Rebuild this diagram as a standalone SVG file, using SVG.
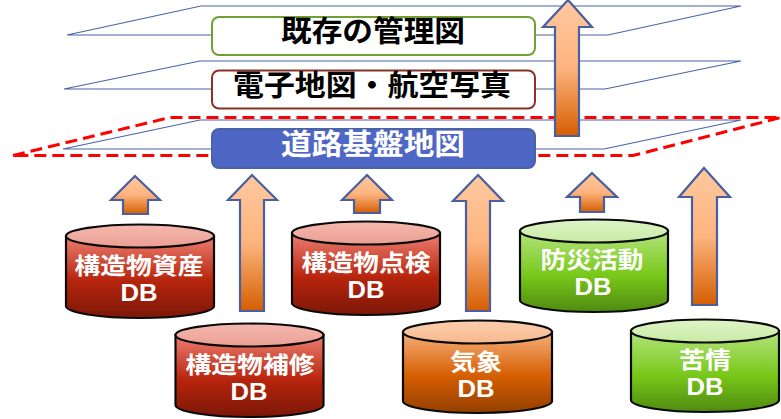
<svg xmlns="http://www.w3.org/2000/svg" width="781" height="419" viewBox="0 0 781 419">
<style>
.plane{fill:none;stroke:#4a62a8;stroke-width:1.1}
.box{stroke-width:2}
.hd{font-family:"Liberation Sans","Noto Sans CJK JP",sans-serif;font-size:29px;font-weight:700;text-anchor:middle}
.lb{font-family:"Liberation Sans","Noto Sans CJK JP",sans-serif;font-size:23px;font-weight:700;fill:#fff;text-anchor:middle}
.db{font-family:"Liberation Sans","Noto Sans CJK JP",sans-serif;font-size:24px;font-weight:700;fill:#fff;text-anchor:middle}
.arr{fill:url(#ga);stroke:#4a5f9f;stroke-width:2.2;stroke-linejoin:miter}
.cyl{stroke:#0a0a0a;stroke-width:2.2}
.red{fill:url(#gr)}.org{fill:url(#go)}.grn{fill:url(#gg)}
.redt{fill:url(#grt)}.orgt{fill:url(#got)}.grnt{fill:url(#ggt)}
</style>
<defs>
<linearGradient id="ga" x1="0" y1="0" x2="0" y2="1"><stop offset="0" stop-color="#ffc99f"/><stop offset=".5" stop-color="#fdb47f"/><stop offset="1" stop-color="#d55e00"/></linearGradient>
<linearGradient id="gr" x1="0" y1="0" x2="0" y2="1"><stop offset="0" stop-color="#ee7f72"/><stop offset=".55" stop-color="#b6240c"/><stop offset="1" stop-color="#7c1808"/></linearGradient>
<linearGradient id="go" x1="0" y1="0" x2="0" y2="1"><stop offset="0" stop-color="#f7b07c"/><stop offset=".55" stop-color="#d55e00"/><stop offset="1" stop-color="#933f00"/></linearGradient>
<linearGradient id="gg" x1="0" y1="0" x2="0" y2="1"><stop offset="0" stop-color="#b4e47c"/><stop offset=".55" stop-color="#78c81a"/><stop offset="1" stop-color="#4f8a10"/></linearGradient>
<linearGradient id="grt" x1="0" y1="0" x2="0" y2="1"><stop offset="0" stop-color="#f5b8ae"/><stop offset="1" stop-color="#eb9f94"/></linearGradient>
<linearGradient id="got" x1="0" y1="0" x2="0" y2="1"><stop offset="0" stop-color="#fbcfb0"/><stop offset="1" stop-color="#f7b88c"/></linearGradient>
<linearGradient id="ggt" x1="0" y1="0" x2="0" y2="1"><stop offset="0" stop-color="#dff4c8"/><stop offset="1" stop-color="#c8eba4"/></linearGradient>
</defs>
<g id="planes">
<path class="plane" d="M67 35L201 6H741L608 35Z"/>
<path class="plane" d="M64 89L200 61H741L605 89Z"/>
<path class="plane" d="M63 149L200 120H741L604 149Z"/>
</g>
<path id="red-outline" d="M13 155.500L170 117.500H781L633 155.500Z" fill="none" stroke="#ff0000" stroke-width="3" stroke-dasharray="12 6"/>
<g id="layer-existing"><rect class="box" x="212" y="17" width="323" height="38" rx="7" fill="#fff" stroke="#70a030"/><text class="hd" x="373" y="42" fill="#000" textLength="184" lengthAdjust="spacingAndGlyphs">既存の管理図</text></g>
<g id="layer-map"><rect class="box" x="212" y="70.500" width="323" height="38" rx="7" fill="#fff" stroke="#8a3226"/><text class="hd" x="372" y="95.500" fill="#000" textLength="278" lengthAdjust="spacingAndGlyphs">電子地図・航空写真</text></g>
<g id="layer-road"><rect class="box" x="212" y="129" width="323" height="39" rx="7" fill="#4f67c4" stroke="#4a62a8"/><text class="hd" x="373" y="155" fill="#fff" textLength="184" lengthAdjust="spacingAndGlyphs">道路基盤地図</text></g>
<g id="connectors">
<path class="arr" d="M135 176L160 200H148V214H123V200H111Z"/>
<path class="arr" d="M252 175L277 200H264V311H240V200H228Z"/>
<path class="arr" d="M367 175L392 200H380V213H354V200H342Z"/>
<path class="arr" d="M478 175L503 201H490V311H466V201H453Z"/>
<path class="arr" d="M592 173L617 197H604V212H580V197H567Z"/>
<path class="arr" d="M704 168L730 197H717V305H692V197H679Z"/>
<path class="arr" d="M568 0L592 27H579V136H555V27H543Z"/>
</g>
<g id="db-assets"><path class="cyl red" d="M66 236V306A74 12 0 0 0 214 306V236Z"/><ellipse class="cyl redt" cx="140" cy="236" rx="74" ry="11.500"/><text class="lb" x="139" y="274" textLength="129" lengthAdjust="spacingAndGlyphs">構造物資産</text><text class="db" x="139" y="301" textLength="37" lengthAdjust="spacingAndGlyphs">DB</text></g>
<g id="db-repair"><path class="cyl red" d="M175.500 335V405A74 12 0 0 0 323.500 405V335Z"/><ellipse class="cyl redt" cx="249.500" cy="335" rx="74" ry="11.500"/><text class="lb" x="250" y="373" textLength="129" lengthAdjust="spacingAndGlyphs">構造物補修</text><text class="db" x="249" y="400" textLength="37" lengthAdjust="spacingAndGlyphs">DB</text></g>
<g id="db-inspect"><path class="cyl red" d="M292 233V303A74 12 0 0 0 440 303V233Z"/><ellipse class="cyl redt" cx="366" cy="233" rx="74" ry="11.500"/><text class="lb" x="366" y="271" textLength="129" lengthAdjust="spacingAndGlyphs">構造物点検</text><text class="db" x="366" y="298" textLength="37" lengthAdjust="spacingAndGlyphs">DB</text></g>
<g id="db-weather"><path class="cyl org" d="M403 332V401A74.500 12 0 0 0 552 401V332Z"/><ellipse class="cyl orgt" cx="477.500" cy="332" rx="74.500" ry="11.500"/><text class="lb" x="476" y="370" textLength="52" lengthAdjust="spacingAndGlyphs">気象</text><text class="db" x="476" y="396.500" textLength="37" lengthAdjust="spacingAndGlyphs">DB</text></g>
<g id="db-disaster"><path class="cyl grn" d="M520 231V300A74 12 0 0 0 668 300V231Z"/><ellipse class="cyl grnt" cx="594" cy="231" rx="74" ry="11.500"/><text class="lb" x="592" y="268" textLength="103" lengthAdjust="spacingAndGlyphs">防災活動</text><text class="db" x="593" y="294.500" textLength="37" lengthAdjust="spacingAndGlyphs">DB</text></g>
<g id="db-complaint"><path class="cyl grn" d="M631 331V400A74 12 0 0 0 779 400V331Z"/><ellipse class="cyl grnt" cx="705" cy="331" rx="74" ry="11.500"/><text class="lb" x="705" y="368" textLength="52" lengthAdjust="spacingAndGlyphs">苦情</text><text class="db" x="705" y="394.500" textLength="37" lengthAdjust="spacingAndGlyphs">DB</text></g>
</svg>
